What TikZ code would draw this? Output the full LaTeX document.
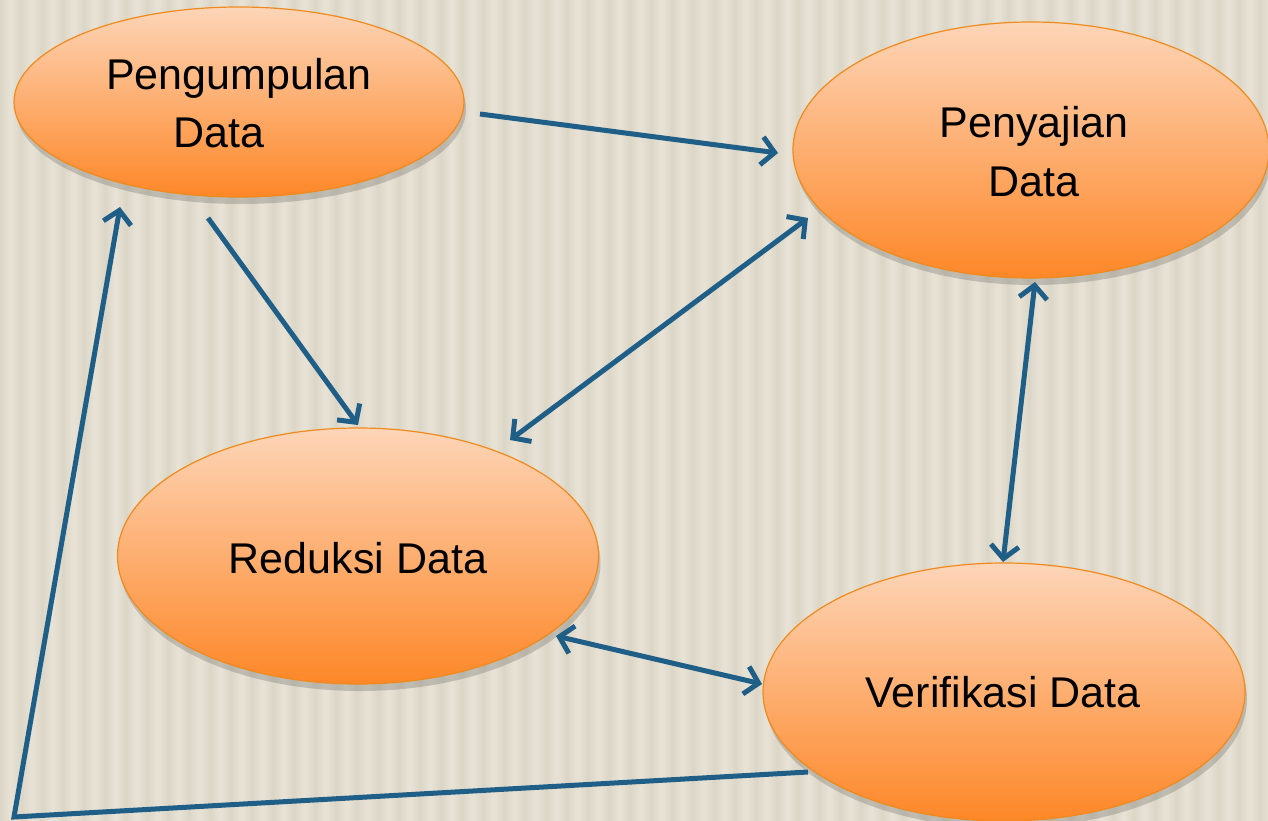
\documentclass[tikz,border=0pt]{standalone}
\usepackage{fontspec}
\setmainfont{Liberation Sans}
\usetikzlibrary{arrows.meta,shapes.geometric,shadows}
\definecolor{bgbase}{HTML}{DCD6C7}
\definecolor{bglight}{HTML}{E8E3D6}
\definecolor{ortop}{HTML}{FDD5B8}
\definecolor{orbot}{HTML}{FD8728}
\definecolor{orline}{HTML}{F08A1C}
\definecolor{arrblue}{HTML}{1F5E87}
\tikzset{
  blob/.style={ellipse, draw=orline, line width=1.2pt, top color=ortop, bottom color=orbot,
    drop shadow={shadow xshift=2pt, shadow yshift=-7pt, fill=black!60, opacity=0.3}},
  lbl/.style={font=\fontsize{43}{50}\selectfont, align=center},
  conn/.style={draw=arrblue, line width=5pt, -{Straight Barb[length=13pt,width=28pt,line width=5pt]}},
  bconn/.style={draw=arrblue, line width=5pt, {Straight Barb[length=13pt,width=28pt,line width=5pt]}-{Straight Barb[length=13pt,width=28pt,line width=5pt]}}
}
\begin{document}
\begin{tikzpicture}[x=1pt,y=-1pt]
\useasboundingbox (0,0) rectangle (1268,821);
\fill[bgbase] (0,0) rectangle (1268,821);
\foreach \i in {0,...,60}{
  \shade[left color=bgbase, right color=bgbase, middle color=bglight] (\i*21,0) rectangle (\i*21+21,821);
}
% ellipses
\node[blob, minimum width=450pt, minimum height=190pt] (e1) at (239,102) {};
\node[blob, minimum width=476pt, minimum height=256pt] (e2) at (1031,150) {};
\node[blob, minimum width=481pt, minimum height=256pt] (e3) at (358,556) {};
\node[blob, minimum width=482pt, minimum height=258pt] (e4) at (1004,692) {};
% labels
\node[lbl] (t1) at (239,78) {Pengumpulan};
\node[lbl] (t1b) at (219,133) {Data};
\node[lbl] (t2) at (1034,126) {Penyajian};
\node[lbl] (t2b) at (1034,182) {Data};
\node[lbl] (t3) at (358,558) {Reduksi Data};
\node[lbl] (t4) at (1003,692) {Verifikasi Data};
% connector anchors
\coordinate (a1s) at (480,114); \coordinate (a1e) at (778,153);
\coordinate (a2s) at (208,218); \coordinate (a2e) at (358,425);
\coordinate (a3s) at (808,218); \coordinate (a3e) at (510,440);
\coordinate (a4s) at (1035,282); \coordinate (a4e) at (1003,562);
\coordinate (a5s) at (556,636); \coordinate (a5e) at (762,684);
\coordinate (a6s) at (808,772); \coordinate (corner) at (14,817); \coordinate (a6e) at (120,207);
\draw[conn] (a1s) -- (a1e);
\draw[conn] (a2s) -- (a2e);
\draw[bconn] (a3s) -- (a3e);
\draw[bconn] (a4s) -- (a4e);
\draw[bconn] (a5s) -- (a5e);
\draw[conn, line join=miter] (a6s) -- (corner) -- (a6e);
\end{tikzpicture}
\end{document}
